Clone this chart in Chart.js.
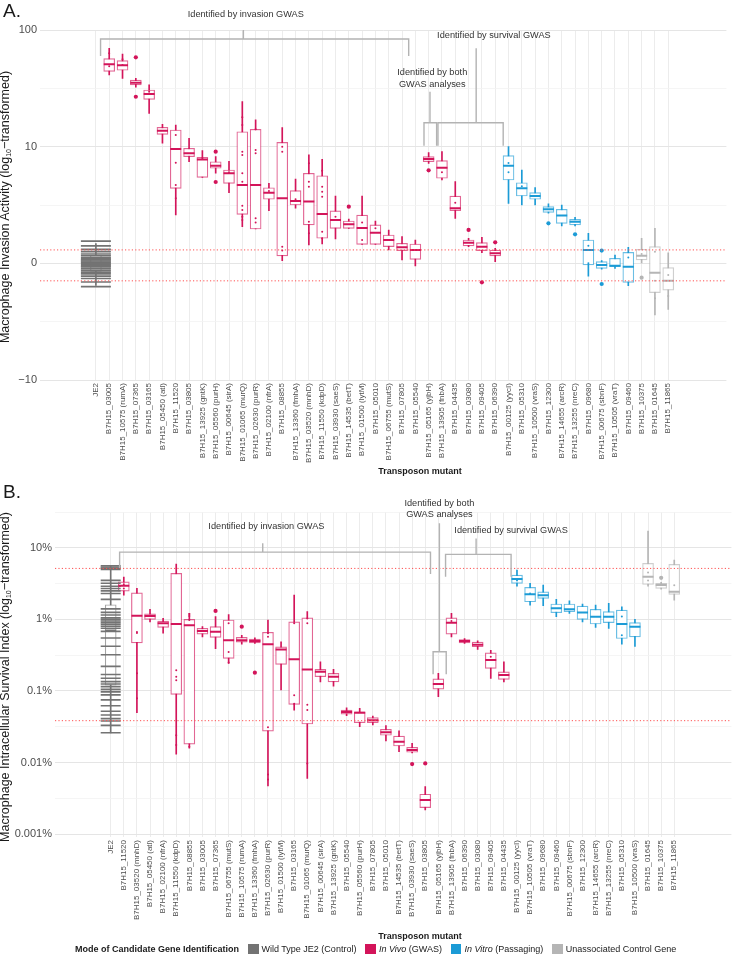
<!DOCTYPE html>
<html>
<head>
<meta charset="utf-8">
<script src="https://cdn.jsdelivr.net/npm/chart.js@4"></script>
<style>
  body { margin: 0; width: 743px; height: 955px; overflow: hidden; background: #fff; position: relative;
         font-family: "Liberation Sans", Arial, Helvetica, sans-serif; color: #1a1a1a; }
  canvas { position: absolute; left: 0; }
  .tag { position: absolute; left: 3px; font-size: 19px; line-height: 19px; }
  .ytitle { position: absolute; left: 7px; font-size: 12.5px; line-height: 14px; white-space: nowrap;
            transform: translate(-50%, -50%) rotate(-90deg); }
  .ytitle sub { font-size: 7px; vertical-align: -2px; }
  .xtitle { position: absolute; left: 420px; transform: translateX(-50%); font-size: 9px; line-height: 11px; font-weight: bold; }
  #legend { position: absolute; left: 75px; top: 943.5px; height: 11px; display: flex; align-items: center;
            font-size: 9px; line-height: 11px; white-space: nowrap; }
  #legend .key { width: 10.5px; height: 10.5px; margin-left: 9px; margin-right: 3px; }
</style>
</head>
<body>
<canvas id="chartA" width="743" height="480" style="top:0"></canvas>
<canvas id="chartB" width="743" height="460" style="top:480px"></canvas>
<div class="tag" style="top:1px">A.</div>
<div class="tag" style="top:482px">B.</div>
<div class="ytitle" style="top:207px">Macrophage Invasion Activity (log<sub>10</sub>−transformed)</div>
<div class="ytitle" style="top:677px">Macrophage Intracellular Survival Index (log<sub>10</sub>−transformed)</div>
<div class="xtitle" style="top:466px">Transposon mutant</div>
<div class="xtitle" style="top:931px">Transposon mutant</div>
<div id="legend"></div>

<script>
"use strict";

const FONT = '"Liberation Sans", Arial, Helvetica, sans-serif';

// Groups: 0 = wild type, 1 = in vivo, 2 = in vitro, 3 = unassociated control
const GROUP_LABELS = ["Wild Type JE2 (Control)", "<i>In Vivo</i> (GWAS)", "<i>In Vitro</i> (Passaging)", "Unassociated Control Gene"];
const GROUP_COLORS = ["#737373", "#d3145a", "#1b9bd6", "#b5b5b5"];

// ---------- Panel A: invasion activity (values on the plot's log10 axis) ----------
const namesA = ["JE2", "B7H15_03005", "B7H15_10575 (rumA)", "B7H15_07365", "B7H15_03165", "B7H15_05450 (atl)",
  "B7H15_11520", "B7H15_03805", "B7H15_13925 (gntK)", "B7H15_05560 (purH)", "B7H15_00645 (sirA)",
  "B7H15_01065 (murQ)", "B7H15_02630 (purR)", "B7H15_02100 (nfrA)", "B7H15_08855", "B7H15_13360 (fmhA)",
  "B7H15_03520 (mnhD)", "B7H15_11550 (kdpD)", "B7H15_03930 (saeS)", "B7H15_14535 (betT)", "B7H15_01500 (lytM)",
  "B7H15_05010", "B7H15_06755 (mutS)", "B7H15_07805", "B7H15_05540", "B7H15_05165 (yjbH)", "B7H15_13905 (fnbA)",
  "B7H15_04435", "B7H15_03080", "B7H15_09405", "B7H15_06390", "B7H15_00125 (yycI)", "B7H15_05310",
  "B7H15_10500 (vraS)", "B7H15_12300", "B7H15_14655 (arcR)", "B7H15_13255 (nreC)", "B7H15_09680",
  "B7H15_00675 (sbnF)", "B7H15_10505 (vraT)", "B7H15_09460", "B7H15_10375", "B7H15_01645", "B7H15_11865"];
const groupA = [0, 1,1,1,1,1,1,1,1,1,1, 1,1,1,1,1,1,1,1,1,1, 1,1,1,1,1,1,1,1,1,1, 2,2,2,2,2,2,2,2,2,2, 3,3,3];
const lowA  = [-0.19, 1.614, 1.586, 1.509, 1.286, 1.029, 0.414, 0.871, 0.737, 0.772, 0.606, 0.314, 0.294, 0.451, 0.023,
  0.472, 0.157, 0.166, 0.209, 0.300, 0.163, 0.163, 0.114, 0.029, -0.023, 0.857, 0.714, 0.386, 0.143, 0.091, 0.014,
  0.514, 0.500, 0.500, 0.429, 0.320, 0.320, -0.109, -0.049, -0.043, -0.191, 0.000, -0.443, -0.394];
const q1A   = [-0.07, 1.646, 1.655, 1.529, 1.406, 1.106, 0.643, 0.914, 0.737, 0.815, 0.686, 0.420, 0.294, 0.549, 0.063,
  0.500, 0.329, 0.215, 0.300, 0.300, 0.163, 0.163, 0.143, 0.109, 0.034, 0.871, 0.729, 0.451, 0.149, 0.109, 0.063,
  0.714, 0.577, 0.549, 0.437, 0.343, 0.329, -0.014, -0.043, -0.029, -0.163, 0.029, -0.251, -0.229];
const medA  = [0.0, 1.706, 1.697, 1.548, 1.451, 1.137, 0.980, 0.943, 0.889, 0.837, 0.772, 0.671, 0.671, 0.606, 0.557,
  0.534, 0.529, 0.423, 0.371, 0.335, 0.303, 0.263, 0.200, 0.137, 0.114, 0.894, 0.820, 0.472, 0.177, 0.143, 0.086,
  0.837, 0.643, 0.577, 0.463, 0.409, 0.357, 0.114, -0.014, -0.020, -0.029, 0.066, -0.080, -0.149];
const q3A   = [0.07, 1.754, 1.737, 1.571, 1.486, 1.166, 1.143, 0.986, 0.909, 0.871, 0.800, 1.128, 1.149, 0.648, 1.037,
  0.623, 0.772, 0.751, 0.449, 0.363, 0.414, 0.329, 0.243, 0.172, 0.166, 0.914, 0.880, 0.577, 0.200, 0.177, 0.114,
  0.923, 0.691, 0.606, 0.486, 0.463, 0.377, 0.200, 0.014, 0.043, 0.094, 0.120, 0.143, -0.037];
const highA = [0.17, 1.843, 1.794, 1.586, 1.529, 1.192, 1.186, 1.072, 0.966, 0.914, 0.875, 1.386, 1.229, 0.686, 1.163,
  0.723, 0.929, 0.892, 0.577, 0.380, 0.577, 0.363, 0.286, 0.229, 0.200, 0.949, 0.957, 0.700, 0.214, 0.223, 0.129,
  1.000, 0.800, 0.649, 0.509, 0.500, 0.394, 0.257, 0.023, 0.071, 0.137, 0.214, 0.300, 0.091];
const outliersA = [[3, 1.766], [3, 1.428], [9, 0.957], [9, 0.697], [19, 0.486], [25, 0.797], [28, 0.286], [29, -0.163],
  [30, 0.180], [34, 0.343], [36, 0.249], [38, 0.109], [38, -0.177], [41, -0.123]];
const dotsA = [[1, 1.80], [1, 1.69], [2, 1.75], [2, 1.70], [4, 1.47], [6, 1.10], [6, 0.863], [6, 0.671], [6, 0.557],
  [8, 0.90], [10, 0.78], [11, 1.252], [11, 1.186], [11, 0.957], [11, 0.929], [11, 0.772], [11, 0.70], [11, 0.494],
  [11, 0.457], [11, 0.40], [11, 0.371], [12, 1.149], [12, 0.971], [12, 0.943], [12, 0.386], [12, 0.349], [13, 0.62],
  [14, 1.0], [14, 0.957], [14, 0.143], [14, 0.109], [15, 0.55], [16, 0.857], [16, 0.70], [16, 0.657], [16, 0.357],
  [16, 0.257], [17, 0.794], [17, 0.657], [17, 0.614], [17, 0.571], [17, 0.271], [17, 0.214], [18, 0.40], [20, 0.35],
  [20, 0.20], [21, 0.30], [26, 0.78], [27, 0.52], [31, 0.86], [31, 0.78], [32, 0.66], [37, 0.15], [37, 0.0],
  [40, 0.05], [41, 0.08], [42, 0.10], [42, -0.15], [42, -0.30], [43, -0.10], [43, -0.28]];
const je2A = [0.19, 0.15, 0.12, 0.10, 0.08, 0.065, 0.05, 0.04, 0.03, 0.02, 0.01, 0.0, -0.01, -0.02, -0.03, -0.045,
  -0.06, -0.075, -0.09, -0.11, -0.13, -0.16, -0.20];
const thresholdsA = [0.115, -0.15];
const yTicksA  = [-1, -0.5, 0, 0.5, 1, 1.5, 2];
const yLabelsA = ["−10", "", "0", "", "10", "", "100"];
const bracketsA = [
  { lines: ["Identified by invasion GWAS"], textX: 11.26, textY: 2.137, from: 0.35, to: 23.5, bar: 1.923, dropL: 1.777, dropR: 1.777, stem: 11.08, stemTop: 2.0 },
  { lines: ["Identified by both", "GWAS analyses"], textX: 25.27, textY: 1.634, from: 24.65, to: 25.6, bar: 1.205, dropL: 1.008, dropR: 1.008, stem: 25.1, stemTop: 1.471 },
  { lines: ["Identified by survival GWAS"], textX: 29.9, textY: 1.951, from: 25.7, to: 30.6, bar: 1.205, dropL: 1.008, dropR: 1.008, stem: 28.57, stemTop: 1.843 },
];

// ---------- Panel B: intracellular survival index (%) ----------
const namesB = ["JE2", "B7H15_11520", "B7H15_03520 (mnhD)", "B7H15_05450 (atl)", "B7H15_02100 (nfrA)",
  "B7H15_11550 (kdpD)", "B7H15_08855", "B7H15_03005", "B7H15_07365", "B7H15_06755 (mutS)", "B7H15_10575 (rumA)",
  "B7H15_13360 (fmhA)", "B7H15_02630 (purR)", "B7H15_01500 (lytM)", "B7H15_03165", "B7H15_01065 (murQ)",
  "B7H15_00645 (sirA)", "B7H15_13925 (gntK)", "B7H15_05540", "B7H15_05560 (purH)", "B7H15_07805", "B7H15_05010",
  "B7H15_14535 (betT)", "B7H15_03930 (saeS)", "B7H15_03805", "B7H15_05165 (yjbH)", "B7H15_13905 (fnbA)",
  "B7H15_06390", "B7H15_03080", "B7H15_09405", "B7H15_04435", "B7H15_00125 (yycI)", "B7H15_10505 (vraT)",
  "B7H15_09680", "B7H15_09460", "B7H15_00675 (sbnF)", "B7H15_12300", "B7H15_14655 (arcR)", "B7H15_13255 (nreC)",
  "B7H15_05310", "B7H15_10500 (vraS)", "B7H15_01645", "B7H15_10375", "B7H15_11865"];
const groupB = [0, 1,1,1,1,1,1,1,1,1,1, 1,1,1,1,1,1,1,1,1,1, 1,1,1,1,1,1,1,1,1,1, 2,2,2,2,2,2,2,2,2,2, 3,3,3];
const lowB  = [0.026, 2.18, 0.0497, 0.92, 0.64, 0.0131, 0.0158, 0.57, 0.39, 0.243, 0.45, 0.46, 0.0047, 0.103, 0.054,
  0.006, 0.134, 0.117, 0.045, 0.0316, 0.0334, 0.0201, 0.0142, 0.0136, 0.00217, 0.083, 0.57, 0.46, 0.38, 0.15, 0.134,
  2.92, 1.58, 1.55, 1.09, 1.21, 0.92, 0.77, 0.75, 0.45, 0.42, 2.92, 2.65, 1.86];
const q1B   = [0.12, 2.48, 0.47, 1.0, 0.77, 0.0897, 0.0181, 0.62, 0.56, 0.285, 0.48, 0.47, 0.0275, 0.235, 0.065,
  0.0345, 0.158, 0.134, 0.0475, 0.036, 0.036, 0.024, 0.017, 0.0139, 0.00234, 0.106, 0.62, 0.47, 0.414, 0.207, 0.145,
  3.18, 1.76, 1.96, 1.24, 1.28, 1.0, 0.86, 0.9, 0.54, 0.57, 3.08, 2.71, 2.23];
const medB  = [0.7, 2.94, 1.12, 1.11, 0.88, 0.86, 0.83, 0.69, 0.67, 0.51, 0.51, 0.50, 0.45, 0.38, 0.276,
  0.20, 0.185, 0.158, 0.0507, 0.0497, 0.039, 0.0264, 0.0195, 0.015, 0.003, 0.125, 0.90, 0.497, 0.44, 0.27, 0.167,
  3.66, 2.25, 2.18, 1.43, 1.38, 1.25, 1.09, 1.09, 0.86, 0.79, 3.94, 3.01, 2.43];
const q3B   = [1.6, 3.35, 2.35, 1.19, 0.946, 4.39, 1.0, 0.75, 0.79, 0.98, 0.56, 0.53, 0.66, 0.414, 0.92,
  1.05, 0.20, 0.176, 0.054, 0.051, 0.0423, 0.0291, 0.0234, 0.0163, 0.0036, 0.147, 1.05, 0.52, 0.48, 0.34, 0.185,
  4.16, 2.8, 2.43, 1.64, 1.64, 1.53, 1.38, 1.28, 1.35, 0.9, 6.05, 3.18, 5.86];
const highB = [5.5, 3.9, 2.71, 1.38, 1.03, 5.9, 1.21, 0.79, 1.09, 1.17, 0.60, 0.55, 0.98, 0.486, 2.18,
  1.28, 0.256, 0.20, 0.058, 0.057, 0.0445, 0.0327, 0.0278, 0.0185, 0.0046, 0.176, 1.21, 0.54, 0.50, 0.37, 0.256,
  4.89, 3.18, 3.01, 1.9, 1.82, 1.64, 1.58, 1.67, 1.5, 1.0, 17.1, 3.3, 6.73];
const outliersB = [[8, 1.31], [10, 0.79], [11, 0.18], [23, 0.0095], [24, 0.0097], [42, 3.81]];
const dotsB = [[1, 3.1], [1, 2.7], [2, 0.665], [2, 0.645], [2, 0.177], [2, 0.079], [5, 0.195], [5, 0.158], [5, 0.141],
  [5, 0.024], [5, 0.0175], [6, 1.19], [6, 1.11], [6, 0.98], [6, 0.0166], [9, 0.88], [9, 0.35], [9, 0.25], [12, 0.64],
  [12, 0.57], [12, 0.031], [12, 0.0068], [12, 0.0058], [14, 0.88], [14, 0.087], [14, 0.066], [15, 1.03], [15, 0.88],
  [15, 0.064], [15, 0.054], [15, 0.0097], [26, 0.95], [29, 0.3], [31, 3.5], [32, 2.3], [39, 1.1], [39, 0.6],
  [41, 4.5], [41, 3.5], [43, 3.0]];
const je2B = [5.6, 5.4, 5.2, 5.0, 3.5, 3.2, 2.9, 2.7, 2.5, 2.3, 1.9, 1.4, 1.25, 1.15, 1.05, 1.0, 0.95, 0.9, 0.85, 0.8,
  0.75, 0.68, 0.55, 0.42, 0.32, 0.22, 0.17, 0.15, 0.135, 0.125, 0.115, 0.105, 0.097, 0.088, 0.075, 0.062, 0.052,
  0.046, 0.041, 0.038, 0.033, 0.026];
const thresholdsB = [5.15, 0.0384];
const yTicksB  = [0.001, 0.00316, 0.01, 0.0316, 0.1, 0.316, 1, 3.16, 10, 31.62];
const yLabelsB = ["0.001%", "", "0.01%", "", "0.1%", "", "1%", "", "10%", ""];
const bracketsB = [
  { lines: ["Identified by invasion GWAS"], textX: 11.88, textY: 19.6, from: 0.68, to: 24.4, bar: 8.7, dropL: 5.2, dropR: 4.29, stem: 11.6, stemTop: 11.6 },
  { lines: ["Identified by both", "GWAS analyses"], textX: 25.08, textY: 41.7, from: 24.6, to: 25.6, bar: 0.352, dropL: 0.171, dropR: 0.171, stem: 25.08, stemTop: 22.1 },
  { lines: ["Identified by survival GWAS"], textX: 30.55, textY: 17.7, from: 25.55, to: 30.55, bar: 8.08, dropL: 3.94, dropR: 3.94, stem: 27.88, stemTop: 13.5 },
];

function rgba(hex, a) {
  const n = parseInt(hex.slice(1), 16);
  return `rgba(${n >> 16},${(n >> 8) & 255},${n & 255},${a})`;
}

// Grey bracket annotations above the boxes
const bracketPlugin = {
  id: "brackets",
  afterDatasetsDraw(chart, args, opts) {
    const { ctx, scales: { x, y } } = chart;
    ctx.save();
    ctx.strokeStyle = "#b3b3b3";
    ctx.lineWidth = 1.4;
    ctx.fillStyle = "#333";
    ctx.font = `9.2px ${FONT}`;
    ctx.textAlign = "center";
    ctx.textBaseline = "middle";
    for (const b of opts.items || []) {
      const x0 = x.getPixelForValue(b.from), x1 = x.getPixelForValue(b.to);
      const yb = y.getPixelForValue(b.bar);
      ctx.beginPath();
      ctx.moveTo(x0, y.getPixelForValue(b.dropL));
      ctx.lineTo(x0, yb);
      ctx.lineTo(x1, yb);
      ctx.lineTo(x1, y.getPixelForValue(b.dropR));
      const xs = x.getPixelForValue(b.stem);
      ctx.moveTo(xs, yb);
      ctx.lineTo(xs, y.getPixelForValue(b.stemTop));
      ctx.stroke();
      const ty = y.getPixelForValue(b.textY);
      b.lines.forEach((t, i) => ctx.fillText(t, x.getPixelForValue(b.textX), ty + i * 11.3));
    }
    ctx.restore();
  },
};

function buildPanel(id, p) {
  const idx = p.names.map((_, i) => i);
  const col = p.groups.map(g => GROUP_COLORS[g]);
  const soft = p.groups.map(g => rgba(GROUP_COLORS[g], 0.65));
  const pts = (list) => list.map(([i, v]) => ({ x: i, y: v }));
  const ptCol = (list) => list.map(([i]) => col[i]);

  const datasets = [
    { type: "bar", data: idx.map(i => ({ x: i, y: [p.low[i], p.high[i]] })),
      backgroundColor: col, barThickness: 1, grouped: false, order: 6 },
    { type: "bar", data: idx.map(i => ({ x: i, y: [p.q1[i], p.q3[i]] })),
      backgroundColor: "#fff", borderColor: soft, borderWidth: 1.2, borderSkipped: false,
      barThickness: 11, grouped: false, order: 5 },
    { type: "scatter", data: p.je2.map(v => ({ x: 0, y: v })), pointStyle: "line", pointRadius: p.dashR,
      pointBorderColor: GROUP_COLORS[0], pointBorderWidth: 1.6, order: 4 },
    { type: "scatter", data: idx.map(i => ({ x: i, y: p.med[i] })), pointStyle: "line", pointRadius: 5.5,
      pointBorderColor: col, pointBorderWidth: 2, order: 3 },
    { type: "scatter", data: pts(p.dots), pointRadius: 1, pointBackgroundColor: ptCol(p.dots),
      pointBorderWidth: 0, order: 2 },
    { type: "scatter", data: pts(p.outliers), pointRadius: 2.1, pointBackgroundColor: ptCol(p.outliers),
      pointBorderWidth: 0, order: 1 },
    ...p.thresholds.map(t => ({
      type: "line", data: [{ x: p.xMin, y: t }, { x: p.xMax, y: t }],
      borderColor: "#ff5050", borderWidth: 1, borderDash: [1.2, 2.2], pointRadius: 0, order: 0,
    })),
  ];

  return new Chart(document.getElementById(id), {
    type: "bar",
    data: { datasets },
    plugins: [bracketPlugin],
    options: {
      responsive: false,
      animation: false,
      events: [],
      layout: { padding: { top: p.padTop, left: 0, right: 0, bottom: 0 } },
      plugins: {
        legend: { display: false },
        tooltip: { enabled: false },
        brackets: { items: p.brackets },
      },
      scales: {
        x: {
          type: "linear", min: p.xMin, max: p.xMax, offset: false,
          afterBuildTicks: s => { s.ticks = idx.map(i => ({ value: i })); },
          afterFit: s => { s.height = p.xAxisHeight; },
          ticks: {
            autoSkip: false, minRotation: 90, maxRotation: 90, padding: 3, color: "#4d4d4d",
            font: { size: 8, family: FONT }, callback: v => p.names[v] ?? "",
          },
          grid: { color: "#ececec", lineWidth: 1, drawTicks: false, offset: false },
          border: { display: false },
        },
        y: {
          type: p.yType, min: p.yMin, max: p.yMax, beginAtZero: false,
          afterBuildTicks: s => { s.ticks = p.yTicks.map(v => ({ value: v })); },
          afterFit: s => { s.width = p.yAxisWidth; },
          ticks: { padding: 3, color: "#4d4d4d", font: { size: 11, family: FONT },
                   callback: (v, i) => p.yLabels[i] },
          grid: {
            drawTicks: false,
            color: c => (p.yLabels[c.index] ? "#e5e5e5" : "#f3f3f3"),
            lineWidth: c => (p.yLabels[c.index] ? 1 : 0.8),
          },
          border: { display: false },
        },
      },
    },
  });
}

Chart.defaults.font.family = FONT;

buildPanel("chartA", {
  names: namesA, groups: groupA, low: lowA, q1: q1A, med: medA, q3: q3A, high: highA,
  outliers: outliersA, dots: dotsA, je2: je2A, thresholds: thresholdsA, brackets: bracketsA,
  yType: "linear", yMin: -1, yMax: 2, yTicks: yTicksA, yLabels: yLabelsA,
  xMin: -4.2, xMax: 47.37, padTop: 30, xAxisHeight: 100, yAxisWidth: 40, dashR: 15,
});

buildPanel("chartB", {
  names: namesB, groups: groupB, low: lowB, q1: q1B, med: medB, q3: q3B, high: highB,
  outliers: outliersB, dots: dotsB, je2: je2B, thresholds: thresholdsB, brackets: bracketsB,
  yType: "logarithmic", yMin: 0.00091, yMax: 31.62, yTicks: yTicksB, yLabels: yLabelsB,
  xMin: -4.25, xMax: 47.36, padTop: 32, xAxisHeight: 103, yAxisWidth: 55, dashR: 10,
});

// Legend
document.getElementById("legend").innerHTML =
  "<b>Mode of Candidate Gene Identification</b>" +
  GROUP_LABELS.map((l, i) => `<span class="key" style="background:${GROUP_COLORS[i]}"></span><span>${l}</span>`).join("");
</script>
</body>
</html>
